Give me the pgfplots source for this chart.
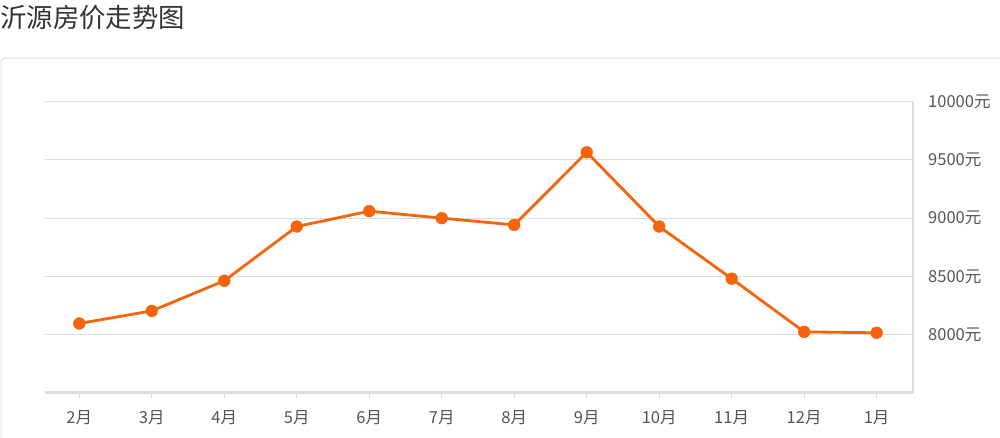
\documentclass[border=0pt]{standalone}
\usepackage{pgfplots}
\pgfplotsset{compat=1.18}
\usepackage{fontspec}
\setmainfont{Noto Sans CJK SC}
\definecolor{lineorange}{RGB}{245,100,12}
\definecolor{gridgray}{RGB}{221,221,221}
\definecolor{labelgray}{RGB}{85,85,85}
\definecolor{titlegray}{RGB}{51,51,51}
\begin{document}
\begin{tikzpicture}
% page = 1000x437 px, 1px = 0.75pt
\path[use as bounding box] (0,0) rectangle (750pt,327.75pt);
\node[anchor=west, inner sep=0pt, font=\fontsize{19.8pt}{22pt}\selectfont, text=titlegray] at (0pt,314.5pt) {沂源房价走势图};
\draw[gridgray, line width=0.75pt, rounded corners=3pt] (0.75pt,284.25pt) rectangle (760pt,-10pt);
\begin{axis}[
    at={(33.75pt,33.2pt)}, anchor=south west,
    width=651.2pt, height=218.25pt, scale only axis,
    xmin=-0.473, xmax=11.505,
    ymin=7500, ymax=10000,
    scaled y ticks=false,
    axis x line*=bottom, axis y line*=right,
    x axis line style={draw=gridgray, line width=2.2pt, -},
    y axis line style={draw=gridgray, line width=1.3pt, -},
    xtick={0,...,11},
    xticklabels={2月,3月,4月,5月,6月,7月,8月,9月,10月,11月,12月,1月},
    ytick={8000,8500,9000,9500,10000},
    yticklabels={8000元,8500元,9000元,9500元,10000元},
    ymajorgrids, grid style={gridgray, line width=0.75pt},
    tick align=outside,
    x tick style={draw=gridgray, line width=0.75pt},
    major tick length=4.5pt,
    y tick style={draw=none},
    tick label style={font=\fontsize{12.4pt}{14pt}\selectfont, text=labelgray},
    xticklabel style={inner sep=0pt, yshift=-8.5pt},
    yticklabel style={anchor=west, inner sep=0pt, xshift=6.5pt},
    clip=false,
]
\addplot[lineorange, line width=2.1pt, mark=*, mark size=4.4pt, mark options={fill=lineorange, draw=lineorange, line width=0.4pt, solid}]
coordinates {
    (0,8095) (1,8203) (2,8462) (3,8928) (4,9060) (5,9000)
    (6,8942) (7,9566) (8,8928) (9,8480) (10,8023) (11,8015)
};
\end{axis}
\end{tikzpicture}
\end{document}
